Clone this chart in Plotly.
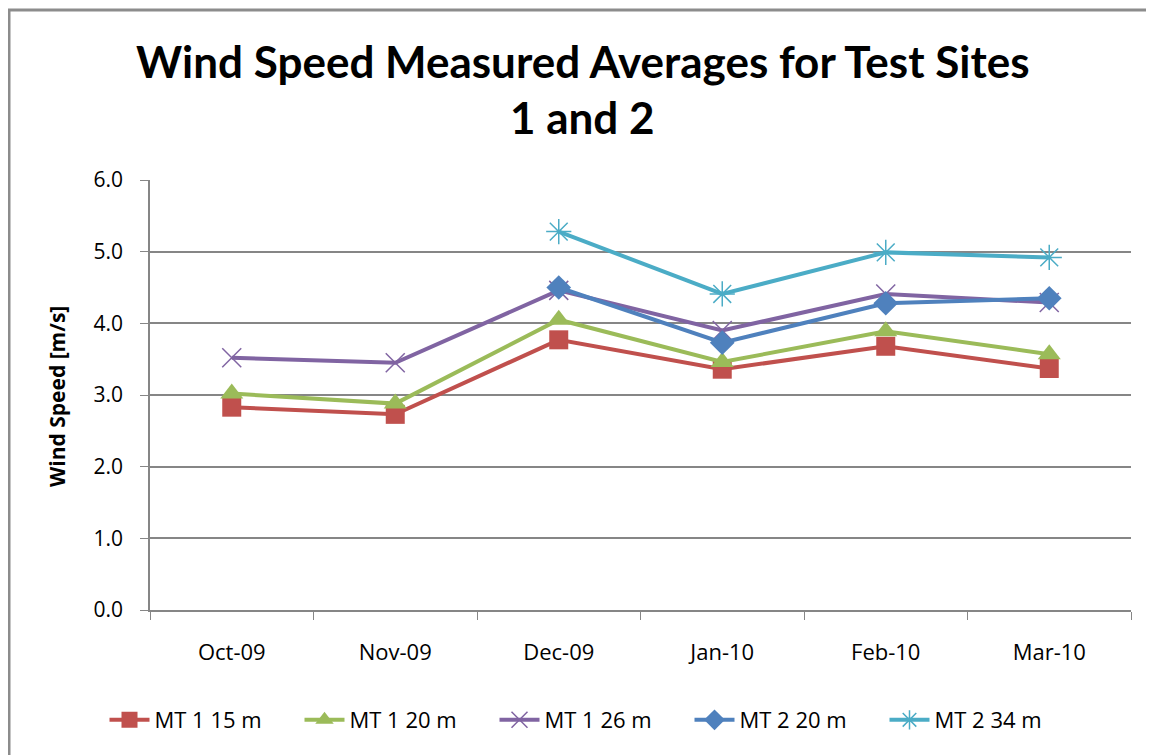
import plotly.graph_objects as go

months = ["Oct-09", "Nov-09", "Dec-09", "Jan-10", "Feb-10", "Mar-10"]
mt1_15 = [2.83, 2.73, 3.77, 3.36, 3.68, 3.37]
mt1_20 = [3.02, 2.88, 4.05, 3.46, 3.89, 3.57]
mt1_26 = [3.52, 3.45, 4.46, 3.90, 4.41, 4.29]
mt2_20 = [None, None, 4.50, 3.73, 4.28, 4.35]
mt2_34 = [None, None, 5.28, 4.41, 4.99, 4.92]
series_names = ["MT 1 15 m", "MT 1 20 m", "MT 1 26 m", "MT 2 20 m", "MT 2 34 m"]
yticks = [0, 1, 2, 3, 4, 5, 6]

colors = ["#C0504D", "#9BBB59", "#8064A2", "#4F81BD", "#4BACC6"]
symbols = ["square", "triangle-up", "x-thin-open", "diamond", "asterisk-open"]
sizes = [19, 20, 19, 19, 21]
data = [mt1_15, mt1_20, mt1_26, mt2_20, mt2_34]

fig = go.Figure()
for name, vals, c, s, sz in zip(series_names, data, colors, symbols, sizes):
    open_sym = s.endswith("open")
    fig.add_trace(go.Scatter(
        x=months, y=vals, name=name, mode="lines+markers",
        line=dict(color=c, width=4),
        marker=dict(symbol=s, size=sz, color=c,
                    line=dict(color=c, width=1.5 if open_sym else 0)),
        connectgaps=False,
    ))

# page body has an 8px margin; figure is offset by (8, 8)
W, H = 1146, 747
L, T = 142, 172
PW, PH = 981, 430
font = "Open Sans"


def px(xpage):
    return (xpage - 8 - L) / PW


def py(ypage):
    return (T + PH - (ypage - 8)) / PH


fig.update_layout(
    width=W, height=H,
    margin=dict(l=L, r=W - L - PW, t=T, b=H - T - PH, autoexpand=False),
    paper_bgcolor="white", plot_bgcolor="white",
    showlegend=True,
    legend=dict(orientation="h", x=px(592), xanchor="center", y=py(720), yanchor="middle",
                font=dict(family=font, size=22, color="#000"),
                entrywidth=140, entrywidthmode="pixels", itemwidth=40,
                bgcolor="rgba(0,0,0,0)"),
    xaxis=dict(type="category", range=[-0.5, 5.5], showgrid=False, automargin=False,
               showline=True, linecolor="#868686", linewidth=1.5,
               ticks="outside", tickson="boundaries", ticklen=8, tickcolor="#868686",
               tickfont=dict(family=font, size=22, color="#000"),
               ticklabelstandoff=22, zeroline=False),
    yaxis=dict(range=[0, 6], tickvals=yticks, tickformat=".1f", automargin=False,
               showgrid=True, gridcolor="#868686", gridwidth=1.5,
               showline=True, linecolor="#868686", linewidth=1.5,
               ticks="outside", ticklen=8, tickcolor="#868686",
               tickfont=dict(family=font, size=21, color="#000"),
               ticklabelstandoff=13, zeroline=False),
    annotations=[
        dict(text="<b>Wind Speed Measured Averages for Test Sites</b>", xref="paper", yref="paper",
             x=px(582), y=py(61), xanchor="center", yanchor="middle", showarrow=False,
             font=dict(family="Lato", size=44, color="#000")),
        dict(text="<b>1 and 2</b>", xref="paper", yref="paper",
             x=px(582), y=py(117), xanchor="center", yanchor="middle", showarrow=False,
             font=dict(family="Lato", size=44, color="#000")),
        dict(text="<b>Wind Speed [m/s]</b>", xref="paper", yref="paper",
             x=px(57), y=py(397), xanchor="center", yanchor="middle", showarrow=False,
             textangle=-90, font=dict(family=font, size=21, color="#000")),
    ],
    shapes=[
        dict(type="rect", xref="paper", yref="paper",
             x0=px(9), x1=1.2, y0=-0.5, y1=py(10),
             line=dict(color="#8C8C8C", width=3), fillcolor="rgba(0,0,0,0)", layer="below"),
    ],
)

fig.write_html("out.html")
